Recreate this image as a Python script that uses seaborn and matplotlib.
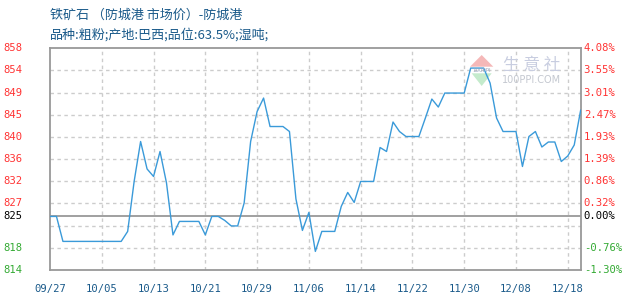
import matplotlib
matplotlib.use("Agg")
import matplotlib.pyplot as plt
import matplotlib.transforms as mtransforms
from matplotlib.patches import Polygon
import seaborn as sns
import pandas as pd
import numpy as np

# ---------------- data ----------------
title_line1 = "铁矿石 （防城港 市场价）-防城港"
title_line2 = "品种:粗粉;产地:巴西;品位:63.5%;湿吨;"

prices = [825, 825, 820, 820, 820, 820, 820, 820, 820, 820,
          820, 820, 822, 832, 840, 834.5, 833, 838, 831.7, 821.3,
          824, 824, 824, 824, 821.3, 825, 825, 824.2, 823.1, 823.1,
          827.7, 840, 846, 848.7, 843, 843, 843, 842, 828.5, 822.2,
          825.8, 818, 822, 822, 822, 827, 829.8, 827.8, 832, 832,
          832, 838.8, 838, 843.9, 842, 841, 841, 841, 844.7, 848.5,
          846.9, 849.7, 849.7, 849.7, 849.7, 854.7, 854.7, 854.7, 851.7, 844.7,
          842, 842, 842, 835, 841, 842, 838.9, 839.9, 839.9, 836,
          837.1, 839.3, 846.3]

x_tick_labels = ["09/27", "10/05", "10/13", "10/21", "10/29", "11/06",
                 "11/14", "11/22", "11/30", "12/08", "12/18"]
base_price = 825
pct_min, pct_step = -1.30, 0.538
left_labels = ["814", "818", "", "827", "832", "836", "840", "845", "849", "854", "858"]
right_labels = ["-1.30%", "-0.76%", "", "0.32%", "0.86%", "1.39%", "1.93%",
                "2.47%", "3.01%", "3.55%", "4.08%"]

df = pd.DataFrame({"idx": np.arange(len(prices)), "price": prices})

# ---------------- style ----------------
sns.set_style("white")
plt.rcParams["font.family"] = ["Noto Sans CJK SC", "DejaVu Sans"]

W, H = 630, 300
fig = plt.figure(figsize=(W / 100, H / 100), dpi=100)
ax_l, ax_r, ax_t, ax_b = 50, 580.7, 48.3, 270
ax = fig.add_axes([ax_l / W, 1 - ax_b / H, (ax_r - ax_l) / W, (ax_b - ax_t) / H])

line_col = "#3a9ad9"
grid_col = "#cccccc"
axis_col = "#999999"
red = "#ff3333"
green = "#33aa33"
blue_txt = "#1a5a8a"

n_grid = len(left_labels)
pcts = [pct_min + k * pct_step for k in range(n_grid)]
yvals = [base_price * (1 + p / 100) for p in pcts]
ymin, ymax = yvals[0], yvals[-1]

sns.lineplot(data=df, x="idx", y="price", ax=ax, color=line_col, linewidth=1.0, zorder=3)

ax.set_xlim(0, len(prices) - 1)
ax.set_ylim(ymin, ymax)
ax.set_xlabel("")
ax.set_ylabel("")
ax.set_xticks([])
ax.set_yticks([])

# horizontal grid lines
for yv in yvals[1:-1]:
    ax.axhline(yv, color=grid_col, lw=1.0, ls=(0, (2.5, 2.5)), zorder=1)
# vertical grid lines
tick_pos = [8 * k for k in range(len(x_tick_labels))]
for xp in tick_pos[1:]:
    ax.axvline(xp, color=grid_col, lw=1.0, ls=(0, (2.5, 2.5)), zorder=1)
# base line
ax.axhline(base_price, color=axis_col, lw=1.3, zorder=2)

for s in ax.spines.values():
    s.set_color(axis_col)
    s.set_linewidth(1.3)

# y labels left / right
tr_y = mtransforms.blended_transform_factory(ax.transAxes, ax.transData)
axw = ax_r - ax_l
num_font = dict(family="DejaVu Sans Mono", fontsize=7.6)
for yv, ll, rl in zip(yvals, left_labels, right_labels):
    if not ll:
        continue
    col = red if yv > base_price else green
    ax.text(-28 / axw, yv, ll, transform=tr_y, ha="right", va="center", color=col,
            clip_on=False, **num_font)
    ax.text(1 + 3 / axw, yv, rl, transform=tr_y, ha="left", va="center", color=col,
            clip_on=False, **num_font)
ax.text(-28 / axw, base_price, str(base_price), transform=tr_y, ha="right", va="center",
        color="black", clip_on=False, **num_font)
ax.text(1 + 3 / axw, base_price, "0.00%", transform=tr_y, ha="left", va="center",
        color="black", clip_on=False, **num_font)

# x labels
tr_x = mtransforms.blended_transform_factory(ax.transData, ax.transAxes)
axh = ax_b - ax_t
for xp, lab in zip(tick_pos, x_tick_labels):
    ax.text(xp, -19 / axh, lab, transform=tr_x, ha="center", va="center",
            color=blue_txt, clip_on=False, **num_font)

# titles
fig.text(50 / W, 1 - 15 / H, title_line1, ha="left", va="center", color=blue_txt, fontsize=9.4)
fig.text(50 / W, 1 - 35 / H, title_line2, ha="left", va="center", color=blue_txt, fontsize=9.4)

# watermark
def fp(x, y):
    return (x / W, 1 - y / H)

ax.add_patch(Polygon([fp(470, 66.7), fp(493.3, 66.7), fp(481.7, 55)], closed=True,
                     transform=fig.transFigure, facecolor="#f5b8b8", edgecolor="none", zorder=0.5))
ax.add_patch(Polygon([fp(471.7, 73.3), fp(491.7, 73.3), fp(481.7, 86)], closed=True,
                     transform=fig.transFigure, facecolor="#c4ebcc", edgecolor="none", zorder=0.5))
fig.text(481.7 / W, 1 - 70 / H, "100PPI", ha="center", va="center", color="#9aa8c0",
         fontsize=4, family="DejaVu Sans", zorder=0.5)
fig.text(531.7 / W, 1 - 65.5 / H, "生 意 社", ha="center", va="center", color="#c8cde0",
         fontsize=12, zorder=0.5)
fig.text(532 / W, 1 - 79.7 / H, "100PPI.COM", ha="center", va="center", color="#c4c8d0",
         fontsize=7, family="DejaVu Sans", zorder=0.5)

fig.savefig("out.png", dpi=100)
